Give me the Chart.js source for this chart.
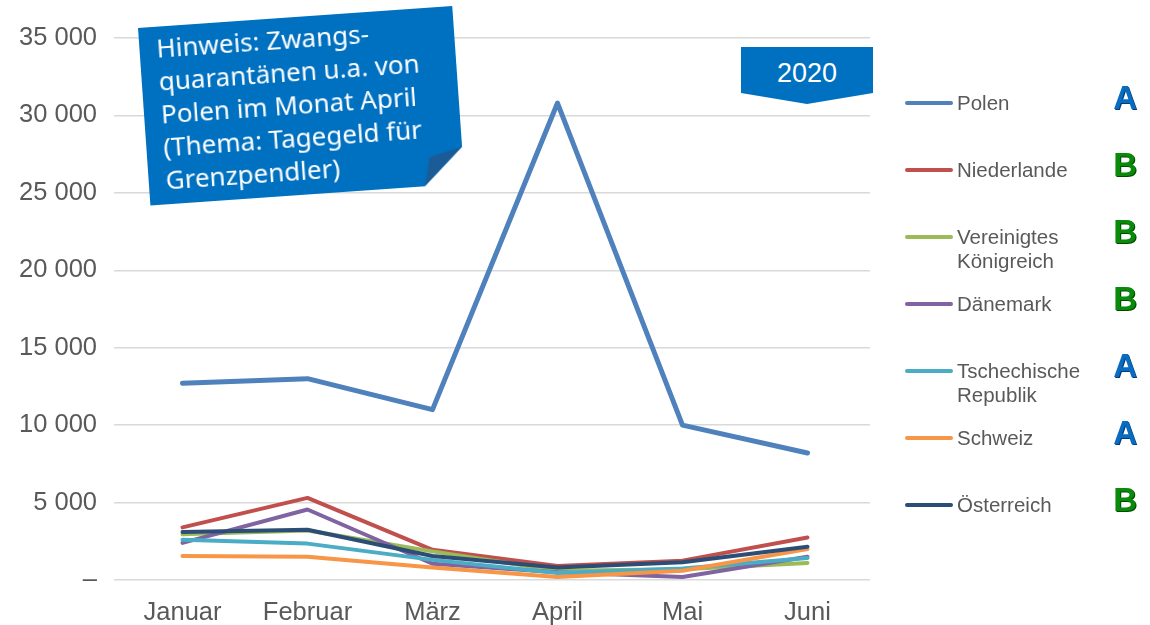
<!DOCTYPE html>
<html>
<head>
<meta charset="utf-8">
<script src="https://cdn.jsdelivr.net/npm/chart.js@4/dist/chart.umd.min.js"></script>
<style>
  body { margin: 0; background: #fff; }
  #wrap { position: relative; width: 1150px; height: 625px; overflow: hidden; font-family: 'Liberation Sans', Arial, sans-serif; }
  #chart { position: absolute; left: 0; top: 0; }
  .note {
    position: absolute; left: 138px; top: 28px; width: 315px; height: 178px;
    transform: rotate(-4deg); transform-origin: 0 0;
  }
  .note .body {
    position: absolute; inset: 0; background: #0070c0;
    clip-path: polygon(0 0, 315px 0, 315px 141px, 275px 178px, 0 178px);
  }
  .note .fold {
    position: absolute; inset: 0; background: #1b5c98;
    clip-path: polygon(315px 141px, 282px 149px, 275px 178px);
  }
  .note .txt {
    position: absolute; left: 17px; top: 5px; color: #fff;
    font-family: 'Noto Sans', sans-serif; font-size: 26px; line-height: 33px; white-space: nowrap;
  }
  .year {
    position: absolute; left: 741px; top: 47px; width: 132px; height: 57px; background: #0070c0;
    clip-path: polygon(0 0, 100% 0, 100% 46px, 50% 57px, 0 46px);
    color: #fff; font-size: 27px; text-align: center; line-height: 52px;
  }
  .leg { position: absolute; left: 905px; color: #595959; font-size: 20.5px; line-height: 24px; }
  .leg .ln { position: absolute; left: 0; top: 10px; width: 48px; height: 4px; border-radius: 2px; }
  .leg .lb { position: absolute; left: 52px; top: 0; white-space: nowrap; }
  .grade { position: absolute; left: 1098px; width: 39px; text-align: right; font-weight: bold; font-size: 33px; line-height: 34px; }
  .grade.A { color: #0a6cc0; text-shadow: 1px 1px 0 #003c78; }
  .grade.B { color: #0a8a0a; text-shadow: 1px 1px 0 #004a00; }
</style>
</head>
<body>
<div id="wrap">
  <canvas id="chart" width="1150" height="625"></canvas>
  <div class="note"><div class="body"></div><div class="fold"></div>
    <div class="txt">Hinweis: Zwangs-<br>quarantänen u.a. von<br>Polen im Monat April<br>(Thema: Tagegeld für<br>Grenzpendler)</div>
  </div>
  <div class="year">2020</div>
  <div id="legend"></div>
</div>
<script>
// Monate (Jan - Juni 2020)
const months = ['Januar', 'Februar', 'März', 'April', 'Mai', 'Juni'];

// Werte je Land
const polen = [12700, 13000, 11000, 30800, 10000, 8200];
const niederlande = [3400, 5300, 1950, 900, 1250, 2750];
const vereinigtesKoenigreich = [2950, 3200, 1850, 600, 700, 1100];
const daenemark = [2400, 4550, 1050, 500, 200, 1500];
const tschechien = [2600, 2350, 1300, 450, 750, 1420];
const schweiz = [1550, 1500, 800, 200, 600, 2000];
const oesterreich = [3100, 3250, 1550, 800, 1150, 2150];

const countries = [['Polen'], ['Niederlande'], ['Vereinigtes', 'Königreich'], ['Dänemark'],
                   ['Tschechische', 'Republik'], ['Schweiz'], ['Österreich']];
const grades = ['A', 'B', 'B', 'B', 'A', 'A', 'B'];
const seriesValues = [polen, niederlande, vereinigtesKoenigreich, daenemark, tschechien, schweiz, oesterreich];
const colors = ['#4f81bd', '#c0504d', '#9bbb59', '#8064a2', '#4bacc6', '#f79646', '#2c4d75'];

// y-Achse
const yTicks = [0, 5000, 10000, 15000, 20000, 25000, 30000, 35000];

function fmt(v) {
  if (v === 0) return '–';
  return String(v).replace(/\B(?=(\d{3})+(?!\d))/g, ' ');
}

const datasets = seriesValues.map((vals, i) => ({
  label: countries[i].join(' '),
  data: vals,
  borderColor: colors[i],
  backgroundColor: colors[i],
  borderWidth: i === 0 ? 5 : 4,
  borderJoinStyle: 'round',
  borderCapStyle: 'round',
  pointRadius: 0,
  tension: 0,
  order: seriesValues.length - i
}));

new Chart(document.getElementById('chart'), {
  type: 'line',
  data: { labels: months, datasets: datasets },
  options: {
    responsive: false,
    animation: false,
    layout: { padding: { top: 38, right: 280, bottom: 0, left: 0 } },
    plugins: { legend: { display: false }, tooltip: { enabled: false } },
    scales: {
      x: {
        offset: true,
        grid: { display: false },
        border: { display: false },
        ticks: { color: '#595959', font: { family: 'Liberation Sans', size: 25.5 }, padding: 10 },
        afterFit: s => { s.height = 45; }
      },
      y: {
        min: yTicks[0],
        max: yTicks[yTicks.length - 1],
        afterBuildTicks: s => { s.ticks = yTicks.map(v => ({ value: v })); },
        grid: { color: '#d9d9d9', lineWidth: 1.5, tickLength: 6, tickColor: '#d9d9d9' },
        border: { display: false },
        ticks: { color: '#595959', font: { family: 'Liberation Sans', size: 25.5 }, padding: 17, callback: v => fmt(v) },
        afterFit: s => { s.width = 120; }
      }
    }
  }
});

// Legende mit Bewertung
const legend = document.getElementById('legend');
countries.forEach((name, i) => {
  const y = 103 + 67 * i;
  const row = document.createElement('div');
  row.className = 'leg';
  row.style.top = (y - 12) + 'px';
  row.innerHTML = '<div class="ln" style="background:' + colors[i] + '"></div><div class="lb">' + name.join('<br>') + '</div>';
  legend.appendChild(row);
  const g = document.createElement('div');
  g.className = 'grade ' + grades[i];
  g.style.top = (y - 5 - 17) + 'px';
  g.textContent = grades[i];
  legend.appendChild(g);
});
</script>
</body>
</html>
